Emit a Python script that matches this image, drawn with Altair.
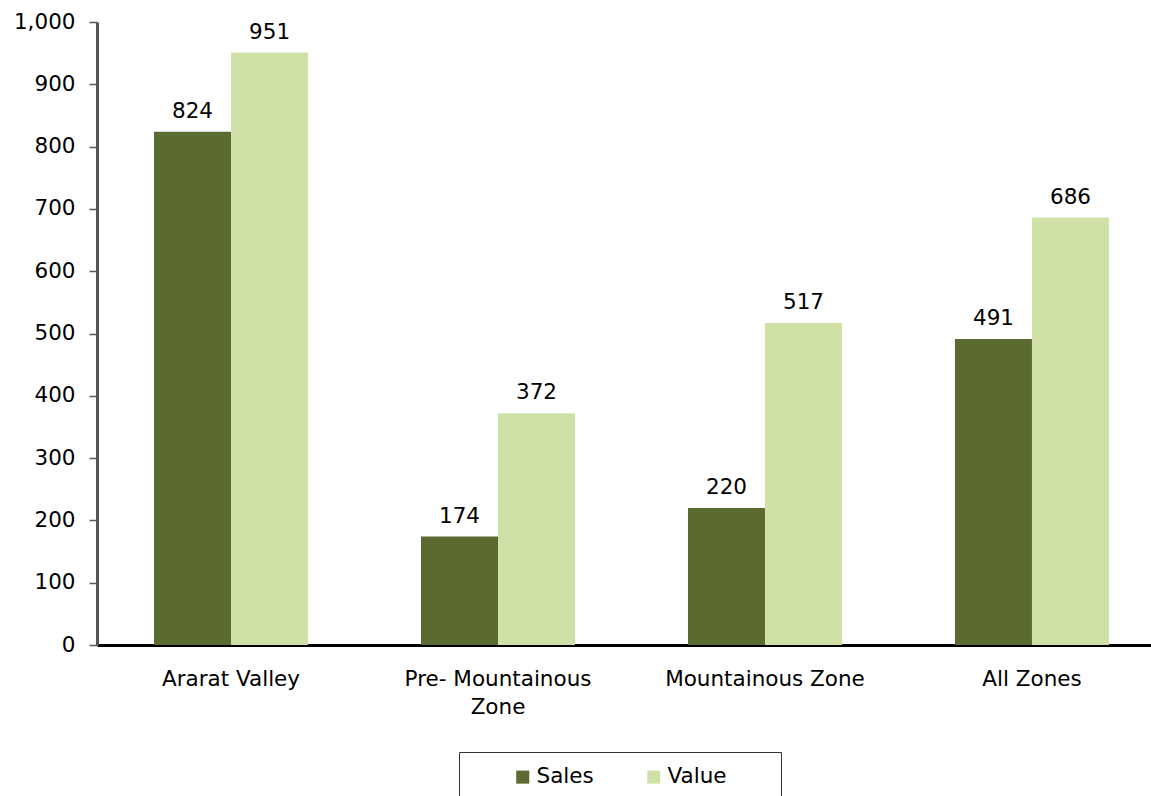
import altair as alt
import pandas as pd

categories = ["Ararat Valley", "Pre- Mountainous Zone", "Mountainous Zone", "All Zones"]
sales = [824, 174, 220, 491]
value = [951, 372, 517, 686]
series = ["Sales", "Value"]
colors = ["#5a6a31", "#d0e1a8"]

rows = []
for c, s, v in zip(categories, sales, value):
    rows.append({"Zone": c, "Series": "Sales", "Amount": s})
    rows.append({"Zone": c, "Series": "Value", "Amount": v})
df = pd.DataFrame(rows)

FONT = "DejaVu Sans"
FS = 21.5

x = alt.X("Zone:N", sort=categories, title=None,
          scale=alt.Scale(paddingInner=0.423, paddingOuter=0.2135, range=[0, 1069]),
          axis=alt.Axis(labelAngle=0, ticks=False, domainColor="#000000", domainWidth=3,
                        labelFontSize=FS, labelFont=FONT, labelColor="#000000",
                        labelPadding=23, labelLineHeight=28, labelLimit=400,
                        labelExpr="datum.value == 'Pre- Mountainous Zone' ? ['Pre- Mountainous', 'Zone'] : datum.label"))
y = alt.Y("Amount:Q", title=None,
          scale=alt.Scale(domain=[0, 1000], nice=False),
          axis=alt.Axis(values=list(range(0, 1001, 100)), format=",d", grid=False,
                        domainColor="#555555", domainWidth=3, tickColor="#555555",
                        tickSize=8, tickWidth=1.5, labelFontSize=FS, labelFont=FONT,
                        labelColor="#000000", labelPadding=14))

color = alt.Color("Series:N", scale=alt.Scale(domain=series, range=colors),
                  legend=alt.Legend(title="ii", titleOrient="right", titleOpacity=0,
                                    titleFontSize=FS, titleFont=FONT, titlePadding=25,
                                    orient="none", legendX=362, legendY=730,
                                    direction="horizontal", symbolType="square", symbolSize=170,
                                    symbolStrokeWidth=0, labelFontSize=FS, labelFont=FONT,
                                    labelColor="#000000", columnPadding=10, padding=14,
                                    strokeColor="#333333", symbolOffset=39, labelOffset=3,
                                    labelLimit=400))

base = alt.Chart(df).encode(x=x, xOffset=alt.XOffset("Series:N", sort=series, scale=alt.Scale(paddingInner=0)))

bars = base.mark_bar(size=77).encode(y=y, color=color)
labels = base.mark_text(baseline="bottom", dy=-9, fontSize=FS, font=FONT, color="#000000").encode(
    y=alt.Y("Amount:Q"), text=alt.Text("Amount:Q"))

chart = alt.layer(bars, labels).properties(
    width=1054, height=623,
    background="#ffffff",
    autosize=alt.AutoSizeParams(type="none"),
    padding={"left": 97, "top": 22, "right": 0, "bottom": 151},
).configure_view(stroke=None)

chart.save("out.html", embed_options={"renderer": "svg", "actions": False})
